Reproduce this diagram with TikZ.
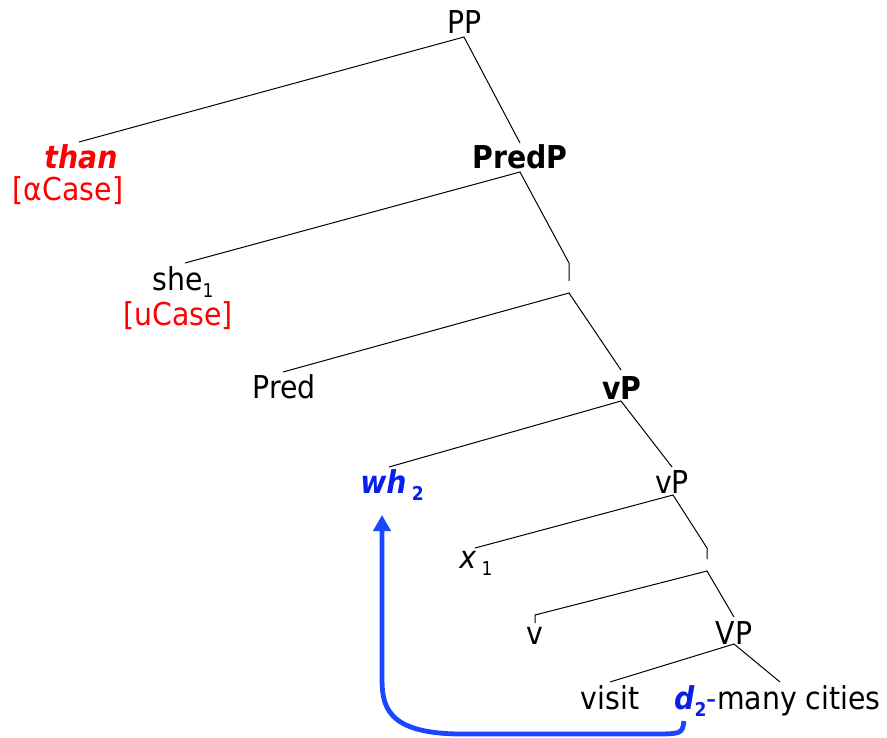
\documentclass[tikz,border=0pt]{standalone}
\usepackage{fontspec}
\setmainfont{DejaVu Sans Condensed}
\usetikzlibrary{arrows.meta}
\definecolor{tred}{RGB}{255,0,0}
\definecolor{tblue}{RGB}{10,30,235}
\definecolor{ablue}{RGB}{25,70,255}
\newcommand{\mysub}[1]{\raisebox{-7pt}{\fontsize{19}{20}\selectfont #1}}
\begin{document}
\begin{tikzpicture}[x=1pt,y=-1pt,
  lbl/.style={anchor=base,inner sep=0pt,font=\fontsize{31.5}{36}\selectfont},
  feat/.style={lbl,text=tred},
  edge/.style={line width=1pt,black},
  mover/.style={line width=4.8pt,ablue,-{Triangle[width=17pt,length=16pt]}}]
\useasboundingbox (0,0) rectangle (887,737);
% labels
\node[lbl] (PP) at (465,33) {PP};
\node[lbl,text=tred] (than) at (81,168) {\textbf{\textit{than}}};
\node[feat] (acase) at (68,200) {[αCase]};
\node[lbl] (PredP) at (520,168) {\textbf{PredP}};
\node[lbl] (she) at (183,290) {she\mysub{1}};
\node[feat] (ucase) at (178,325) {[uCase]};
\node[lbl] (Pred) at (284,398) {Pred};
\node[lbl] (vPb) at (622,399) {\textbf{vP}};
\node[lbl,text=tblue] (wh) at (392,493) {\textbf{\textit{wh}}\,\mysub{\textbf{2}}};
\node[lbl] (vP) at (672,493) {vP};
\node[lbl] (x) at (476,568) {\textit{x}\,\mysub{1}};
\node[lbl] (v) at (535,644) {v};
\node[lbl] (VP) at (734,644) {VP};
\node[lbl] (visit) at (610,709) {visit};
\node[lbl,anchor=base west,text=tblue] (d) at (674,709) {\textbf{\textit{d}}\mysub{\textbf{2}}-};
\node[lbl,anchor=base west] (many) at (d.base east) {many cities};
% tree points
\coordinate (aPP) at (464,37);
\coordinate (tThan) at (79,142);
\coordinate (tPredP) at (520,143);
\coordinate (aPredP) at (520,172);
\coordinate (tShe) at (185,263);
\coordinate (tBarA) at (569,263);
\coordinate (bBarA) at (569,281);
\coordinate (aBarA) at (569,293);
\coordinate (tPred) at (283,372);
\coordinate (tvPb) at (621,370);
\coordinate (avPb) at (621,401);
\coordinate (tWh) at (389,467);
\coordinate (tvP) at (672,467);
\coordinate (avP) at (673,495);
\coordinate (tX) at (475,548);
\coordinate (tBarB) at (707,548);
\coordinate (bBarB) at (707,559);
\coordinate (aBarB) at (707,571);
\coordinate (tv) at (535,615);
\coordinate (bv) at (535,623);
\coordinate (tVP) at (734,617);
\coordinate (aVP) at (734,644);
\coordinate (tVisit) at (610,682);
\coordinate (tMany) at (780,682);
% edges
\draw[edge] (tThan) -- (aPP) -- (tPredP);
\draw[edge] (tShe) -- (aPredP) -- (tBarA) -- (bBarA);
\draw[edge] (tPred) -- (aBarA) -- (tvPb);
\draw[edge] (tWh) -- (avPb) -- (tvP);
\draw[edge] (tX) -- (avP) -- (tBarB) -- (bBarB);
\draw[edge] (bv) -- (tv) -- (aBarB) -- (tVP);
\draw[edge] (tVisit) -- (aVP) -- (tMany);
% movement arrow
\coordinate (mStart) at (684,721);
\coordinate (mEnd) at (382,515);
\draw[mover] (mStart) .. controls (682,734) .. (650,734) -- (462,734)
  .. controls (385,734) and (382,705) .. (382,677) -- (mEnd);
\end{tikzpicture}
\end{document}
